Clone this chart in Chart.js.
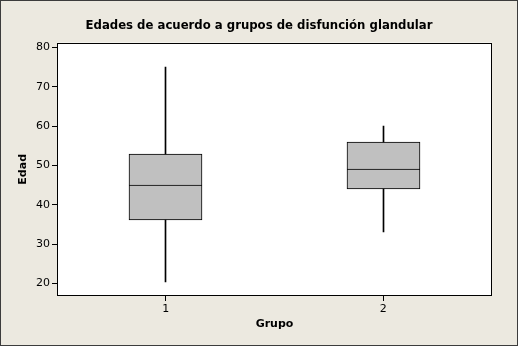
<!DOCTYPE html>
<html>
<head>
<meta charset="utf-8">
<script src="https://cdn.jsdelivr.net/npm/chart.js@4.4.0/dist/chart.umd.min.js"></script>
<style>
  html, body { margin: 0; padding: 0; background: #ece9e0; }
  #frame {
    width: 518px; height: 346px; box-sizing: border-box;
    border: 1px solid #3c3c3c; background: #ece9e0;
  }
  canvas { display: block; }
</style>
</head>
<body>
<div id="frame"><canvas id="chart" width="516" height="344"></canvas></div>
<script>
  // Age by gland dysfunction group: five-number summary per group
  var groups  = ['1', '2']
  var mins    = [20.5, 33]
  var q1s     = [36.25, 44]
  var medians = [45, 49]
  var q3s     = [53, 56]
  var maxs    = [75, 60]
  var yTicks  = [20, 30, 40, 50, 60, 70, 80]

  var font = "Tahoma, 'DejaVu Sans', sans-serif"

  function pairs(lo, hi) {
    return lo.map(function (v, i) { return [v, hi[i]] })
  }

  // white plot area with a black frame around it
  var plotFrame = {
    id: 'plotFrame',
    beforeDatasetsDraw: function (chart) {
      var a = chart.chartArea, ctx = chart.ctx
      ctx.save()
      ctx.fillStyle = '#ffffff'
      ctx.fillRect(a.left, a.top, a.right - a.left, a.bottom - a.top)
      ctx.restore()
      // snap bars to whole pixels so the 1px edges stay sharp
      chart.data.datasets.forEach(function (ds, i) {
        chart.getDatasetMeta(i).data.forEach(function (el) {
          el.x = Math.floor(el.x) + 0.5
          el.y = Math.round(el.y)
          el.base = Math.round(el.base)
        })
      })
    },
    afterDraw: function (chart) {
      var a = chart.chartArea, ctx = chart.ctx
      ctx.save()
      ctx.strokeStyle = '#000000'
      ctx.lineWidth = 1
      ctx.strokeRect(Math.round(a.left) + 0.5, Math.round(a.top) + 0.5,
        Math.round(a.right - a.left) - 1, Math.round(a.bottom - a.top) - 1)
      ctx.restore()
    }
  }

  var box = {
    backgroundColor: '#c0c0c0',
    borderColor: '#000000',
    borderWidth: 1,
    barThickness: 73,
    grouped: false
  }
  var whisker = {
    backgroundColor: '#000000',
    borderWidth: 0,
    barThickness: 1,
    grouped: false
  }

  new Chart(document.getElementById('chart'), {
    type: 'bar',
    data: {
      labels: groups,
      datasets: [
        Object.assign({ data: pairs(mins, q1s) }, whisker),
        Object.assign({ data: pairs(q3s, maxs) }, whisker),
        Object.assign({ data: pairs(q1s, medians), borderSkipped: false }, box),
        Object.assign({ data: pairs(medians, q3s), borderSkipped: 'start' }, box)
      ]
    },
    options: {
      responsive: false,
      animation: false,
      plugins: {
        legend: { display: false },
        tooltip: { enabled: false },
        title: {
          display: true,
          text: 'Edades de acuerdo a grupos de disfunción glandular',
          color: '#000000',
          font: { family: "'DejaVu Sans Condensed', 'DejaVu Sans', sans-serif", size: 13, weight: 'bold' },
          padding: { top: 17, bottom: 9 }
        }
      },
      scales: {
        x: {
          offset: true,
          afterFit: function (scale) { scale.height = 49 },
          grid: {
            offset: false,
            drawOnChartArea: false,
            drawTicks: true,
            tickLength: 5,
            color: '#000000'
          },
          border: { display: false },
          ticks: {
            color: '#000000',
            padding: 2,
            font: { family: font, size: 11 }
          },
          title: {
            display: true,
            text: 'Grupo',
            color: '#000000',
            font: { family: font, size: 11, weight: 'bold' },
            padding: { top: 0, bottom: 14 }
          }
        },
        y: {
          min: 16.85,
          max: 81.2,
          afterFit: function (scale) { scale.width = 56 },
          afterBuildTicks: function (scale) {
            scale.ticks = yTicks.map(function (v) { return { value: v } })
          },
          grid: {
            drawOnChartArea: false,
            drawTicks: true,
            tickLength: 5,
            color: '#000000'
          },
          border: { display: false },
          ticks: {
            color: '#000000',
            padding: 2,
            font: { family: font, size: 11 }
          },
          title: {
            display: true,
            text: 'Edad',
            color: '#000000',
            font: { family: font, size: 11, weight: 'bold' },
            padding: { top: 16, bottom: 0 }
          }
        },
        // empty right-hand margin, keeps the title centred on the whole figure
        yRight: {
          type: 'linear',
          position: 'right',
          afterFit: function (scale) { scale.width = 25 },
          grid: { display: false },
          border: { display: false },
          ticks: { display: false }
        }
      }
    },
    plugins: [plotFrame]
  })
</script>
</body>
</html>
